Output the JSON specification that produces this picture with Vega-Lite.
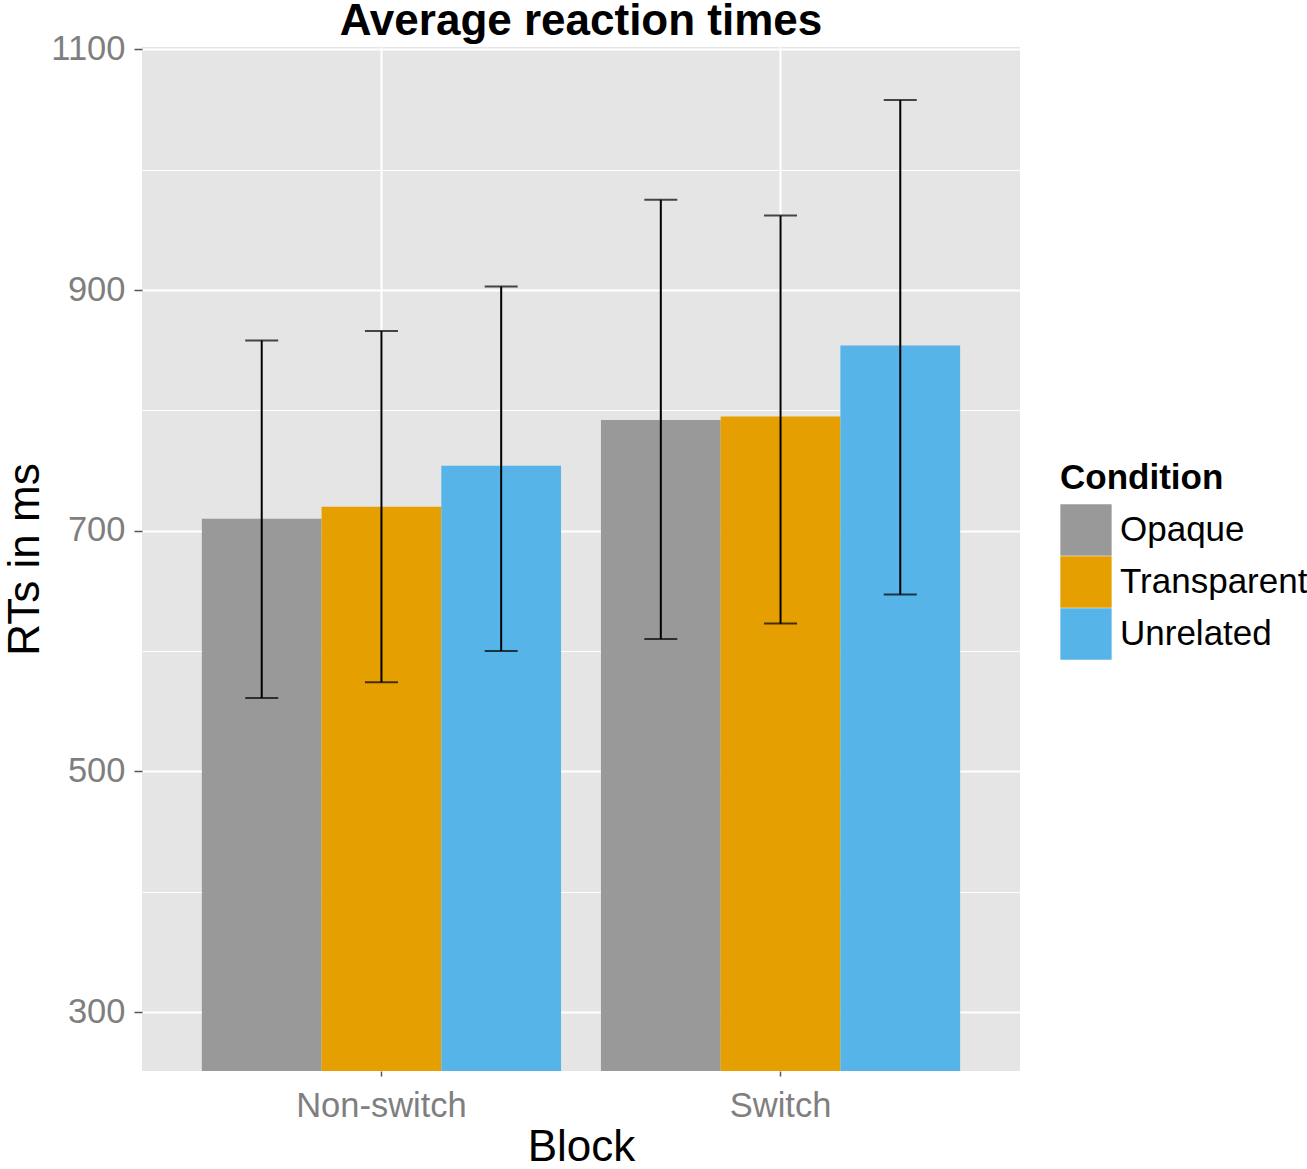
{
  "$schema": "https://vega.github.io/schema/vega-lite/v6.json",
  "width": 878,
  "height": 1024,
  "autosize": {"type": "none"},
  "padding": {"left": 142, "top": 47, "right": 287, "bottom": 98},
  "background": "white",
  "title": {
    "text": "Average reaction times",
    "font": "Liberation Sans",
    "fontSize": 44,
    "fontWeight": "bold",
    "color": "black",
    "anchor": "middle",
    "frame": "group",
    "baseline": "alphabetic",
    "offset": 0,
    "dy": 48
  },
  "data": {
    "values": [
      {"block": "Non-switch", "condition": "Opaque", "rt": 710, "lo": 561, "hi": 858},
      {"block": "Non-switch", "condition": "Transparent", "rt": 720, "lo": 574, "hi": 866},
      {"block": "Non-switch", "condition": "Unrelated", "rt": 754, "lo": 600, "hi": 903},
      {"block": "Switch", "condition": "Opaque", "rt": 792, "lo": 610, "hi": 975},
      {"block": "Switch", "condition": "Transparent", "rt": 795, "lo": 623, "hi": 962},
      {"block": "Switch", "condition": "Unrelated", "rt": 854, "lo": 647, "hi": 1058}
    ]
  },
  "encoding": {
    "x": {
      "field": "block",
      "type": "nominal",
      "title": "Block",
      "scale": {"paddingInner": 0.1, "paddingOuter": 0.15},
      "axis": {
        "grid": true,
        "bandPosition": 0.5,
        "gridColor": "white",
        "gridWidth": 2,
        "labelAngle": 0,
        "tickSize": 5,
        "labelPadding": 13,
        "titlePadding": 3
      }
    },
    "xOffset": {
      "field": "condition",
      "type": "nominal",
      "scale": {"paddingInner": 0, "paddingOuter": 0}
    }
  },
  "layer": [
    {
      "mark": {"type": "bar", "clip": true},
      "encoding": {
        "y": {
          "field": "rt",
          "type": "quantitative",
          "title": "RTs in ms",
          "scale": {"domain": [251, 1102], "nice": false, "zero": false},
          "axis": {
            "values": [300, 500, 700, 900, 1100],
            "format": "d",
            "orient": "left",
            "grid": true,
            "gridColor": "white",
            "gridWidth": 2,
            "tickSize": 8,
            "labelPadding": 9,
            "titlePadding": 3
          }
        },
        "color": {
          "field": "condition",
          "type": "nominal",
          "title": "Condition",
          "scale": {
            "domain": ["Opaque", "Transparent", "Unrelated"],
            "range": ["#999999", "#E69F00", "#56B4E9"]
          },
          "legend": {
            "orient": "none",
            "legendX": 918,
            "legendY": 414,
            "symbolType": "square",
            "symbolSize": 2630,
            "symbolStrokeWidth": 0,
            "symbolOpacity": 1,
            "rowPadding": 0,
            "labelOffset": 8,
            "labelLimit": 400,
            "titlePadding": 8
          }
        }
      }
    },
    {
      "mark": {"type": "rule", "color": "black", "strokeWidth": 2},
      "encoding": {
        "y": {
          "field": "lo",
          "type": "quantitative",
          "axis": {
            "values": [400, 600, 800, 1000],
            "orient": "left",
            "grid": true,
            "gridColor": "white",
            "gridWidth": 1,
            "labels": false,
            "ticks": false,
            "domain": false,
            "title": null
          }
        },
        "y2": {"field": "hi"}
      }
    },
    {
      "mark": {"type": "tick", "color": "black", "thickness": 2, "size": 33},
      "encoding": {
        "y": {"field": "lo", "type": "quantitative", "axis": null}
      }
    },
    {
      "mark": {"type": "tick", "color": "black", "thickness": 2, "size": 33},
      "encoding": {
        "y": {"field": "hi", "type": "quantitative", "axis": null}
      }
    }
  ],
  "resolve": {"axis": {"y": "independent"}},
  "config": {
    "view": {"fill": "#E5E5E5", "stroke": null},
    "font": "Liberation Sans",
    "axis": {
      "domain": false,
      "labelFont": "Liberation Sans",
      "labelFontSize": 34.5,
      "labelColor": "#7F7F7F",
      "tickColor": "#555555",
      "tickWidth": 1.5,
      "titleFont": "Liberation Sans",
      "titleFontSize": 44,
      "titleFontWeight": "normal",
      "titleColor": "black"
    },
    "legend": {
      "titleFont": "Liberation Sans",
      "titleFontSize": 35,
      "titleFontWeight": "bold",
      "titleColor": "black",
      "labelFont": "Liberation Sans",
      "labelFontSize": 35,
      "labelColor": "black"
    }
  }
}
